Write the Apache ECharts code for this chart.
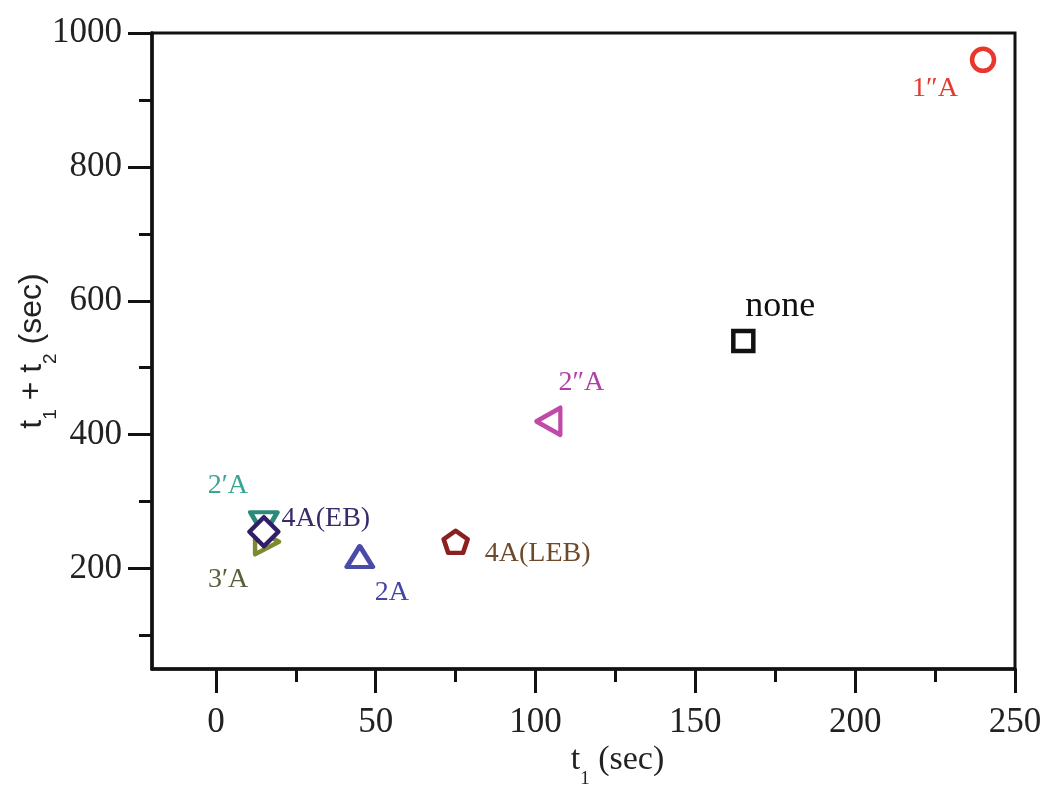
<!DOCTYPE html>
<html>
<head>
<meta charset="utf-8">
<script src="https://cdn.jsdelivr.net/npm/echarts@6/dist/echarts.min.js"></script>
<style>
  html, body { margin: 0; padding: 0; background: #fff; }
  #chart { width: 1050px; height: 791px; }
</style>
</head>
<body>
<div id="chart"></div>
<script>
// Data: treatment names, t1 and t1 + t2 (both in seconds)
const names = ['2′A', '3′A', '4A(EB)', '2A', '4A(LEB)', '2″A', 'none', '1″A'];
const t1Values = [15, 16, 15, 45, 75, 104, 165, 240];
const totalValues = [267, 240, 255, 218, 240, 420, 540, 960];

// Axis ticks
const xMajorTicks = [0, 50, 100, 150, 200, 250];
const xMinorTicks = [25, 75, 125, 175, 225];
const yMajorTicks = [200, 400, 600, 800, 1000];
const yMinorTicks = [100, 300, 500, 700, 900];

// Marker and label styling per point
const pentagon = 'path://M0,-1 L0.951,-0.309 L0.588,0.809 L-0.588,0.809 L-0.951,-0.309 Z';
const styles = [
  { symbol: 'triangle', size: [27, 23], rotate: 180, color: '#2b8a7a', text: '#3aa591', fs: 28, off: [-36, -38] },
  { symbol: 'triangle', size: [25, 24], rotate: -90, color: '#7f8a2e', text: '#5c5e3a', fs: 28, off: [-39, 38] },
  { symbol: 'diamond', size: [29, 29], rotate: 0, color: '#2e1f66', text: '#3a2a6a', fs: 28, off: [62, -13] },
  { symbol: 'triangle', size: [26, 21], rotate: 0, color: '#4a4aa8', text: '#4545a5', fs: 28, off: [32, 36] },
  { symbol: pentagon, size: [24, 22], rotate: 0, color: '#8c1f1f', text: '#6e4a2a', fs: 28, off: [82, 12] },
  { symbol: 'triangle', size: [27, 24], rotate: 90, color: '#c04aa8', text: '#b040a8', fs: 28, off: [33, -39] },
  { symbol: 'rect', size: [20, 20], rotate: 0, color: '#111111', text: '#111111', fs: 36, off: [37, -34] },
  { symbol: 'circle', size: [22, 22], rotate: 0, color: '#e8372c', text: '#e53a2e', fs: 28, off: [-48, 29] }
];

const serif = '"Liberation Serif", "Times New Roman", serif';
const sans = '"Liberation Sans", Arial, sans-serif';
const plain = v => String(v);

const series = names.map((name, i) => {
  const s = styles[i];
  return {
    name: name,
    type: 'scatter',
    xAxisIndex: 0,
    yAxisIndex: 0,
    data: [[t1Values[i], totalValues[i]]],
    symbol: s.symbol,
    symbolSize: s.size,
    symbolRotate: s.rotate,
    itemStyle: {
      color: '#ffffff',
      borderColor: s.color,
      borderWidth: 4.5,
      borderJoin: s.symbol === 'rect' ? 'miter' : 'round',
      opacity: 1
    },
    label: {
      show: true,
      formatter: name,
      position: 'inside',
      offset: s.off,
      rotate: 0,
      align: 'center',
      verticalAlign: 'middle',
      fontFamily: serif,
      fontSize: s.fs,
      color: s.text
    },
    emphasis: { disabled: true },
    silent: true
  };
});

const chart = echarts.init(document.getElementById('chart'), null, { renderer: 'canvas' });

chart.setOption({
  animation: false,
  backgroundColor: '#ffffff',
  grid: {
    left: 152, right: 35, top: 33, bottom: 122,
    outerBoundsMode: 'none',
    containLabel: false,
    show: true, borderColor: '#111', borderWidth: 3, backgroundColor: 'transparent'
  },
  xAxis: [
    {
      type: 'value', min: -20, max: 250,
      axisLine: { show: true, onZero: false, lineStyle: { color: '#111', width: 3.5 } },
      axisTick: { show: true, inside: false, length: 24, customValues: xMajorTicks, lineStyle: { color: '#111', width: 3 } },
      axisLabel: { customValues: xMajorTicks, formatter: plain, margin: 36, fontFamily: serif, fontSize: 35, color: '#222' },
      splitLine: { show: false },
      name: '{m|t}{s|1}{m| (sec)}',
      nameLocation: 'middle',
      nameGap: 74,
      nameMoveOverlap: false,
      nameTextStyle: {
        padding: [0, 0, 0, 68],
        rich: {
          m: { fontFamily: serif, fontSize: 34, color: '#222', padding: [0, 0, 12, 0], verticalAlign: 'bottom' },
          s: { fontFamily: serif, fontSize: 19, color: '#222', verticalAlign: 'bottom' }
        }
      }
    },
    {
      type: 'value', min: -20, max: 250, position: 'bottom',
      axisLine: { show: false, onZero: false },
      axisTick: { show: true, inside: false, length: 13, customValues: xMinorTicks, lineStyle: { color: '#111', width: 3 } },
      axisLabel: { show: false },
      splitLine: { show: false }
    }
  ],
  yAxis: [
    {
      type: 'value', min: 50, max: 1000,
      axisLine: { show: true, onZero: false, lineStyle: { color: '#111', width: 3.5 } },
      axisTick: { show: true, inside: false, length: 24, customValues: yMajorTicks, lineStyle: { color: '#111', width: 3 } },
      axisLabel: { customValues: yMajorTicks, formatter: plain, margin: 30, fontFamily: serif, fontSize: 35, color: '#222' },
      splitLine: { show: false },
      name: '{m|t}{s|1}{m| + t}{s|2}{m| (sec)}',
      nameLocation: 'middle',
      nameRotate: 90,
      nameGap: 92,
      nameMoveOverlap: false,
      nameTextStyle: {
        rich: {
          m: { fontFamily: sans, fontSize: 32, color: '#222', padding: [0, 0, 12, 0], verticalAlign: 'bottom' },
          s: { fontFamily: sans, fontSize: 19, color: '#222', verticalAlign: 'bottom' }
        }
      }
    },
    {
      type: 'value', min: 50, max: 1000, position: 'left',
      axisLine: { show: false, onZero: false },
      axisTick: { show: true, inside: false, length: 13, customValues: yMinorTicks, lineStyle: { color: '#111', width: 3 } },
      axisLabel: { show: false },
      splitLine: { show: false }
    }
  ],
  series: series
});
</script>
</body>
</html>
